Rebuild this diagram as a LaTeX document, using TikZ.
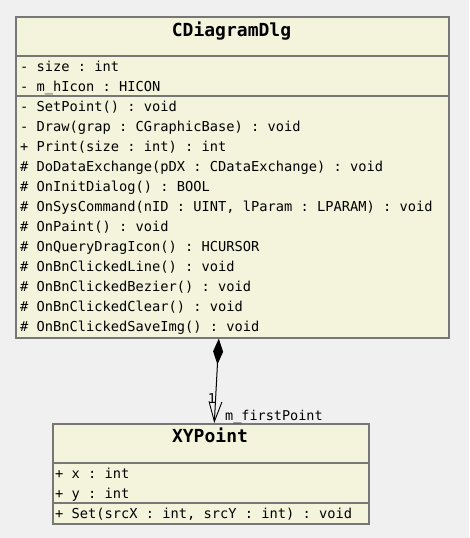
\documentclass[tikz,border=0pt]{standalone}
\usepackage{fontspec}
\setmonofont{DejaVu Sans Mono}
\usetikzlibrary{arrows.meta,calc}
\definecolor{bgcol}{HTML}{F0F0F0}
\definecolor{boxfill}{HTML}{F4F4DC}
\definecolor{boxline}{HTML}{777777}
\tikzset{
  x=1pt,y=-1pt,
  classbox/.style={draw=boxline,fill=boxfill,line width=1.6pt,rectangle,inner sep=0pt,anchor=north west},
  sepline/.style={draw=boxline,line width=1.6pt},
  member/.style={anchor=base west,inner sep=0pt,font=\fontsize{13.7}{15}\selectfont\ttfamily},
  ctitle/.style={anchor=base,inner sep=0pt,font=\fontsize{18}{20}\selectfont\ttfamily\bfseries},
  assoc/.style={line width=1pt,{Diamond[length=26pt,width=10pt]}-{Straight Barb[length=20pt,width=13pt,line width=0.9pt]}},
  alabel/.style={inner sep=0pt,font=\fontsize{13.5}{15}\selectfont\ttfamily}
}
\begin{document}
\begin{tikzpicture}
\fill[bgcol] (0,0) rectangle (469,538);
\useasboundingbox (0,0) rectangle (469,538);
% CDiagramDlg
\node[classbox,minimum width=433pt,minimum height=321pt] (dlg) at (15,16) {};
\node[ctitle] (dlgt) at (231.5,36) {CDiagramDlg};
\draw[sepline] (15,56) -- (448,56);
\draw[sepline] (15,96) -- (448,96);
\node[member] (m1) at (20,71.5) {- size : int};
\node[member] (m2) at (20,91.5) {- m\_hIcon : HICON};
\node[member] (m3) at (20,111.5) {- SetPoint() : void};
\node[member] (m4) at (20,131.5) {- Draw(grap : CGraphicBase) : void};
\node[member] (m5) at (20,151.5) {+ Print(size : int) : int};
\node[member] (m6) at (20,171.5) {\# DoDataExchange(pDX : CDataExchange) : void};
\node[member] (m7) at (20,191.5) {\# OnInitDialog() : BOOL};
\node[member] (m8) at (20,211.5) {\# OnSysCommand(nID : UINT, lParam : LPARAM) : void};
\node[member] (m9) at (20,231.5) {\# OnPaint() : void};
\node[member] (m10) at (20,251.5) {\# OnQueryDragIcon() : HCURSOR};
\node[member] (m11) at (20,271.5) {\# OnBnClickedLine() : void};
\node[member] (m12) at (20,291.5) {\# OnBnClickedBezier() : void};
\node[member] (m13) at (20,311.5) {\# OnBnClickedClear() : void};
\node[member] (m14) at (20,331.5) {\# OnBnClickedSaveImg() : void};
% XYPoint
\node[classbox,minimum width=316pt,minimum height=100pt] (xy) at (52,423) {};
\node[ctitle] (xyt) at (210,442.7) {XYPoint};
\draw[sepline] (52,463) -- (368,463);
\draw[sepline] (52,503) -- (368,503);
\node[member] (x1) at (55,478.3) {+ x : int};
\node[member] (x2) at (55,498.3) {+ y : int};
\node[member] (x3) at (55,518.3) {+ Set(srcX : int, srcY : int) : void};
% association
\coordinate (s) at ($(dlg.south)+(-13.5,0)$);
\coordinate (e) at ($(xy.north)+(3.5,0)$);
\draw[assoc] (s) -- (e);
\node[alabel,anchor=base] (mult) at (212,403.5) {1};
\node[alabel,anchor=base west] (role) at (225,420.7) {m\_firstPoint};
\end{tikzpicture}
\end{document}
